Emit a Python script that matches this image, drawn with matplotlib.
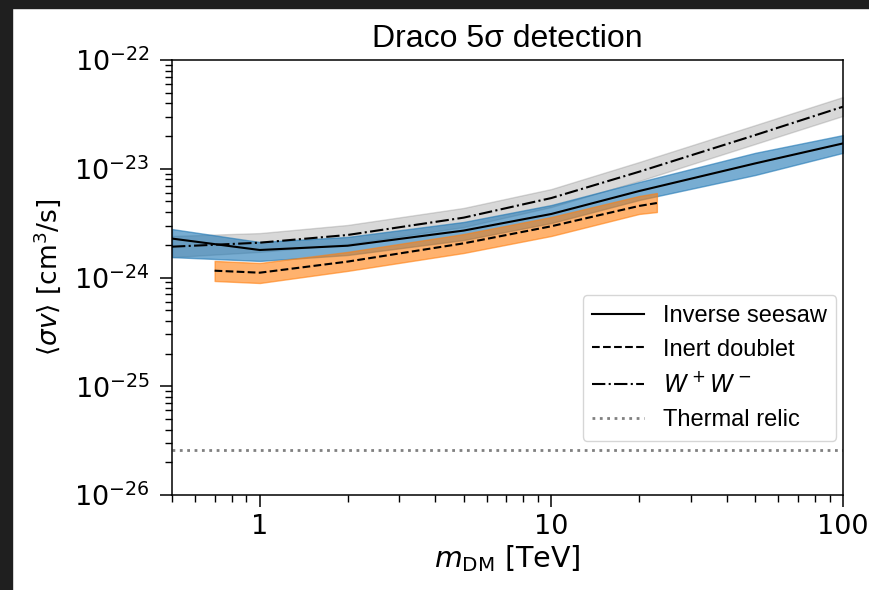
import numpy as np
import matplotlib
matplotlib.use('Agg')
import matplotlib.pyplot as plt
from matplotlib.patches import Rectangle
from matplotlib.ticker import NullFormatter

# masses in TeV
m_iss = [0.5, 1, 2, 5, 10, 20, 50, 100]
sv_iss = [2.28e-24, 1.79e-24, 1.96e-24, 2.70e-24, 3.84e-24, 6.24e-24, 1.12e-23, 1.71e-23]
sv_iss_lo = [1.54e-24, 1.42e-24, 1.61e-24, 2.21e-24, 3.17e-24, 5.16e-24, 8.76e-24, 1.40e-23]
sv_iss_hi = [2.79e-24, 2.12e-24, 2.36e-24, 3.24e-24, 4.64e-24, 7.55e-24, 1.40e-23, 2.04e-23]

m_idm = [0.7, 1, 2, 5, 10, 20, 23]
sv_idm = [1.155e-24, 1.107e-24, 1.40e-24, 2.06e-24, 2.96e-24, 4.55e-24, 4.84e-24]
sv_idm_lo = [9.29e-25, 8.90e-25, 1.15e-24, 1.68e-24, 2.41e-24, 3.84e-24, 4.00e-24]
sv_idm_hi = [1.42e-24, 1.36e-24, 1.72e-24, 2.51e-24, 3.60e-24, 5.62e-24, 5.98e-24]

m_ww = [0.5, 1, 2, 5, 10, 20, 50, 100]
sv_ww = [1.92e-24, 2.09e-24, 2.46e-24, 3.55e-24, 5.38e-24, 9.39e-24, 2.04e-23, 3.72e-23]
sv_ww_lo = [1.54e-24, 1.72e-24, 2.03e-24, 2.91e-24, 4.45e-24, 7.72e-24, 1.69e-23, 3.06e-23]
sv_ww_hi = [2.41e-24, 2.56e-24, 3.04e-24, 4.36e-24, 6.51e-24, 1.153e-23, 2.52e-23, 4.57e-23]

thermal = 2.6e-26

fig = plt.figure(figsize=(8.7, 5.9), dpi=100)
fig.patch.set_facecolor('white')
# dark screenshot border (left and top)
fig.patches.append(Rectangle((0, 0), 12/870, 1, transform=fig.transFigure, color='#1f1f1f', zorder=10))
fig.patches.append(Rectangle((0, 1 - 7.5/590), 1, 7.5/590, transform=fig.transFigure, color='#1f1f1f', zorder=10))

ax = fig.add_axes([172/870, 1 - 495/590, 671/870, 435/590])

ax.fill_between(m_ww, sv_ww_lo, sv_ww_hi, color='gray', alpha=0.3)
ax.fill_between(m_iss, sv_iss_lo, sv_iss_hi, color='tab:blue', alpha=0.6)
ax.fill_between(m_idm, sv_idm_lo, sv_idm_hi, color='tab:orange', alpha=0.6)

ax.plot(m_iss, sv_iss, 'k-', lw=1.5, label='Inverse seesaw')
ax.plot(m_idm, sv_idm, 'k--', lw=1.5, label='Inert doublet')
ax.plot(m_ww, sv_ww, 'k-.', lw=1.5, label=r'$W^+W^-$')
ax.axhline(thermal, color='gray', ls=':', lw=2.0, label='Thermal relic')

ax.set_xscale('log')
ax.set_yscale('log')
ax.set_xlim(0.5, 100)
ax.set_ylim(1e-26, 1e-22)
ax.set_xticks([1, 10, 100])
ax.set_xticklabels(['1', '10', '100'])
ax.xaxis.set_minor_formatter(NullFormatter())

ax.tick_params(which='major', length=8.5, width=1.1, labelsize=19.5)
ax.tick_params(axis='y', which='major', pad=7.5)
ax.tick_params(axis='x', which='major', pad=5.5)
ax.tick_params(which='minor', length=4.8, width=1.0)
for s in ax.spines.values():
    s.set_linewidth(1.1)

ax.set_xlabel(r'$m_{\rm DM}$ [TeV]', fontsize=20.5, labelpad=2)
ax.set_ylabel(r'$\langle\sigma v\rangle$ [cm$^3$/s]', fontsize=19, labelpad=8)
ax.set_title('Draco 5σ detection', fontsize=23, family='Liberation Sans', pad=9.5)

leg = ax.legend(loc='lower right', bbox_to_anchor=(0.99, 0.125), borderaxespad=0,
                handlelength=2.2, prop={'family': 'Liberation Sans', 'size': 17})

plt.savefig('out.png', dpi=100)
